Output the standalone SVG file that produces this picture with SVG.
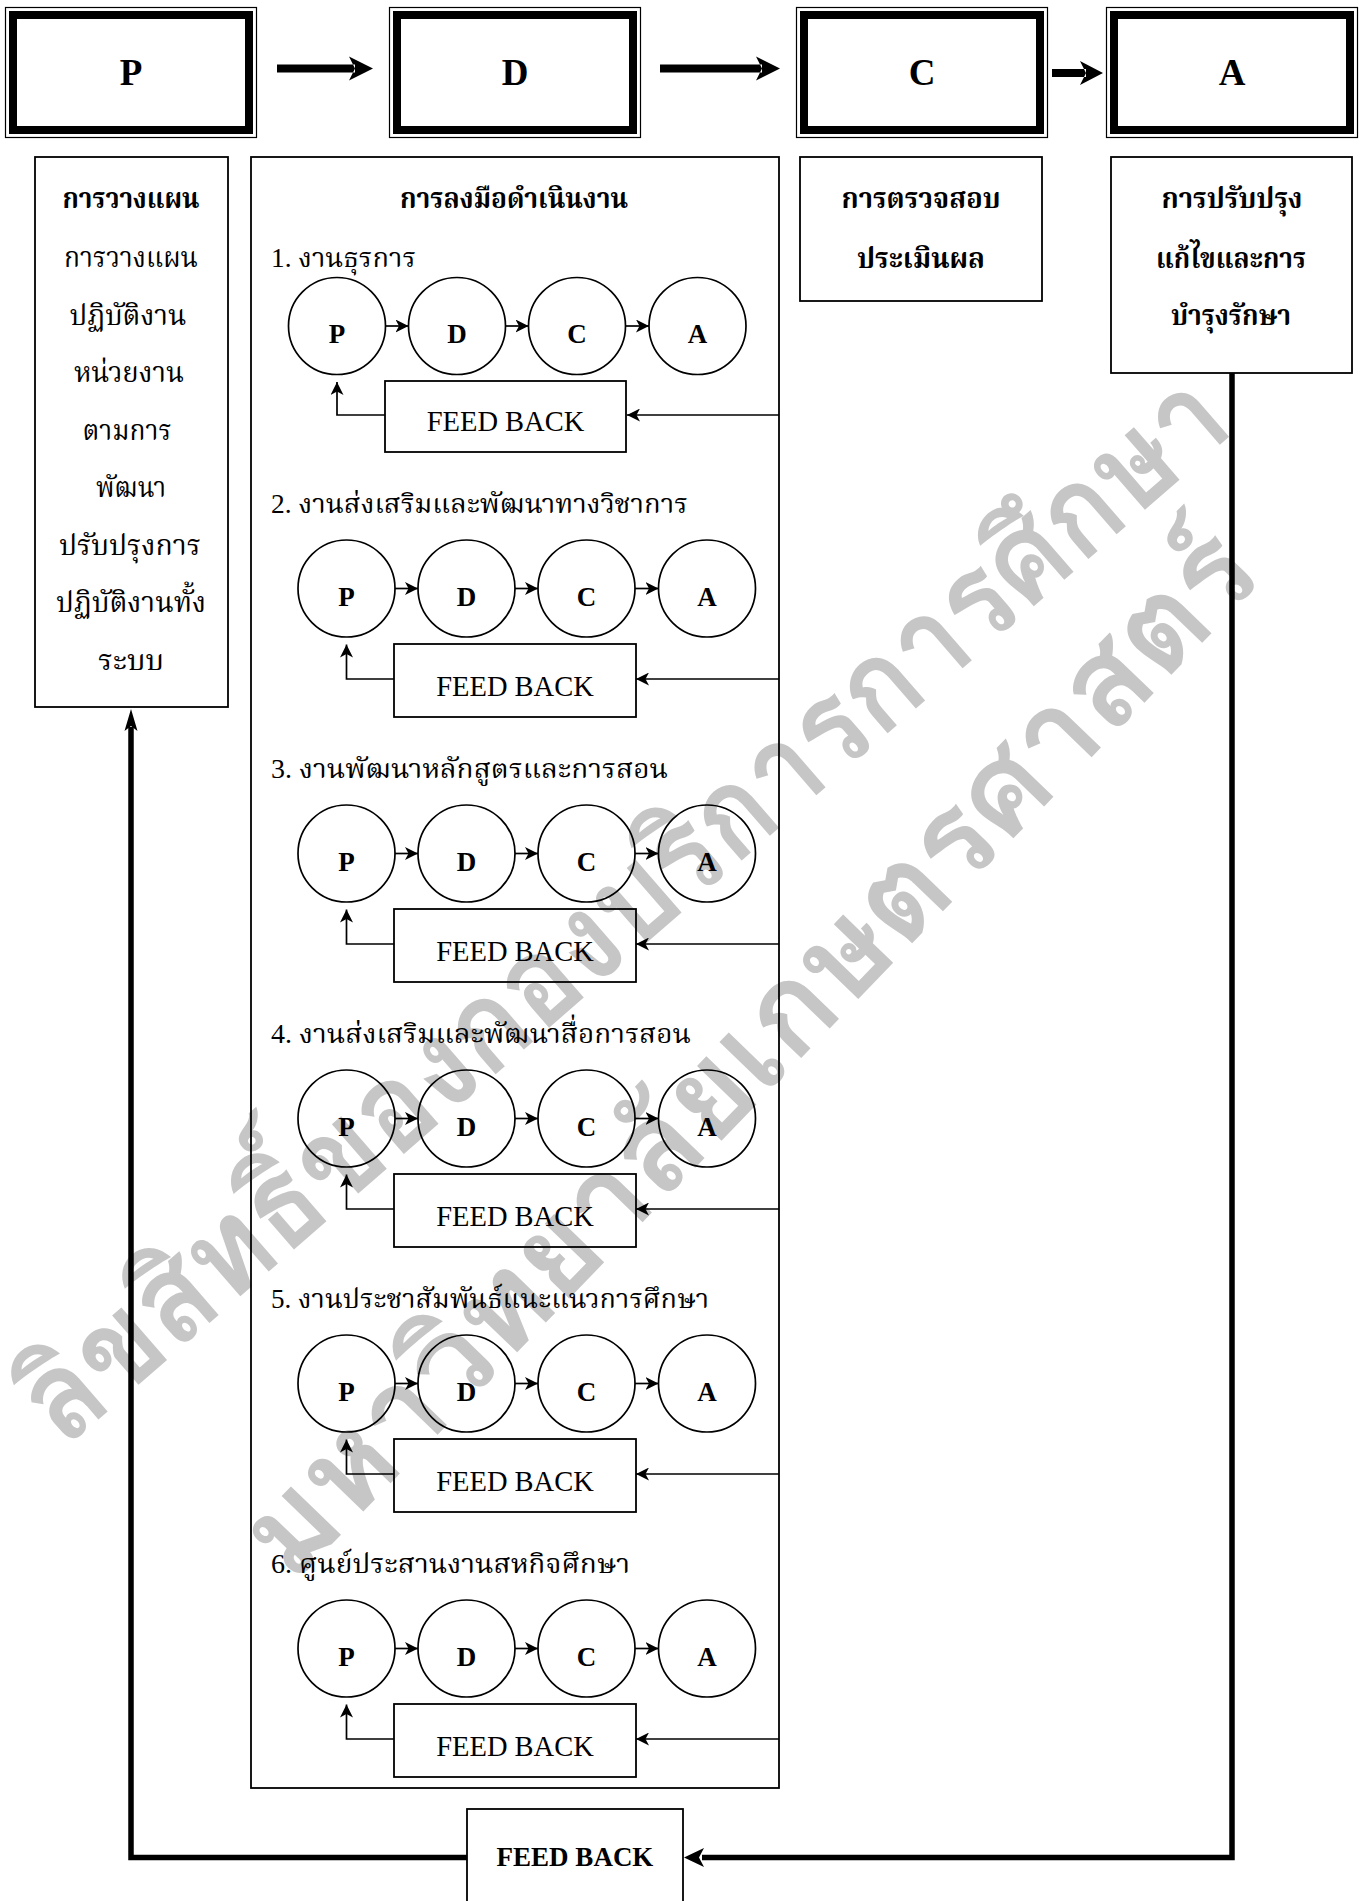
<svg xmlns="http://www.w3.org/2000/svg" width="1365" height="1901" viewBox="0 0 1365 1901">
<defs>
<style>
.th{font-family:"Liberation Serif","Norasi","Angsana New","TH Sarabun New","Noto Serif Thai","Noto Sans Thai","Loma",serif;fill:#000}
.b{font-weight:bold}
.lat{font-family:"Liberation Serif","Times New Roman",serif;fill:#000}
.box{fill:none;stroke:#000;stroke-width:1.8}
.thin{fill:none;stroke:#000;stroke-width:1.2}
.thick{fill:none;stroke:#000;stroke-width:8}
.cir{fill:none;stroke:#000;stroke-width:1.7}
.ln{fill:none;stroke:#000;stroke-width:1.7}
.big{fill:none;stroke:#000;stroke-width:5.5}
.wm{font-family:"Loma","Noto Sans Thai","Garuda","Tahoma","DejaVu Sans",sans-serif;font-weight:bold;fill:#c6c6c6}
</style>
<marker id="ah" viewBox="0 0 13 13" refX="13" refY="6.5" markerWidth="13" markerHeight="13" markerUnits="userSpaceOnUse" orient="auto">
<path d="M0,0 L13,6.5 L0,13 L3.5,6.5 Z" fill="#000"/>
</marker>
<g id="circles">
<circle class="cir" cx="0" cy="0" r="48.5"/>
<circle class="cir" cx="120" cy="0" r="48.5"/>
<circle class="cir" cx="240" cy="0" r="48.5"/>
<circle class="cir" cx="360.5" cy="0" r="48.5"/>
<line class="ln" x1="48.5" y1="0" x2="71.5" y2="0" marker-end="url(#ah)"/>
<line class="ln" x1="168.5" y1="0" x2="191.5" y2="0" marker-end="url(#ah)"/>
<line class="ln" x1="288.5" y1="0" x2="312" y2="0" marker-end="url(#ah)"/>
<text class="lat b" x="0" y="17" font-size="27" text-anchor="middle">P</text>
<text class="lat b" x="120" y="17" font-size="27" text-anchor="middle">D</text>
<text class="lat b" x="240" y="17" font-size="27" text-anchor="middle">C</text>
<text class="lat b" x="360.5" y="17" font-size="27" text-anchor="middle">A</text>
</g>
<g id="cycle">
<use href="#circles"/>
<rect class="box" x="47.5" y="55.5" width="242" height="73"/>
<text class="lat" x="168.5" y="107.5" font-size="28.5" text-anchor="middle">FEED BACK</text>
<polyline class="ln" points="47.5,90.5 0,90.5 0,56" marker-end="url(#ah)"/>
<line class="ln" x1="432.5" y1="90.5" x2="289.5" y2="90.5" marker-end="url(#ah)"/>
</g>
</defs>

<g id="watermark">
<text class="wm" font-size="125" transform="translate(36,1418) rotate(-41)" y="42" textLength="1555" lengthAdjust="spacingAndGlyphs">ลิขสิทธิ์ของกองบริการการศึกษา</text>
<text class="wm" font-size="125" transform="translate(262,1556) rotate(-46)" y="42" textLength="1400" lengthAdjust="spacingAndGlyphs">มหาวิทยาลัยเกษตรศาสตร์</text>
</g>

<g id="node-P">
<rect class="thin" x="5.5" y="7.5" width="251" height="130"/>
<rect class="thick" x="13" y="15" width="236" height="115"/>
<text class="lat b" x="131" y="85" font-size="37" text-anchor="middle">P</text>
</g>
<g id="node-D">
<rect class="thin" x="389.5" y="7.5" width="251" height="130"/>
<rect class="thick" x="397" y="15" width="236" height="115"/>
<text class="lat b" x="515" y="85" font-size="37" text-anchor="middle">D</text>
</g>
<g id="node-C">
<rect class="thin" x="796.5" y="7.5" width="251" height="130"/>
<rect class="thick" x="804" y="15" width="236" height="115"/>
<text class="lat b" x="922" y="85" font-size="37" text-anchor="middle">C</text>
</g>
<g id="node-A">
<rect class="thin" x="1106.5" y="7.5" width="251" height="130"/>
<rect class="thick" x="1114" y="15" width="236" height="115"/>
<text class="lat b" x="1232" y="85" font-size="37" text-anchor="middle">A</text>
</g>

<g id="plan-box">
<rect class="box" x="35" y="157" width="193" height="550"/>
<text class="th b" x="131" y="208" font-size="29" text-anchor="middle" textLength="137" lengthAdjust="spacingAndGlyphs">การวางแผน</text>
<text class="th" x="131" y="267" font-size="29" text-anchor="middle" textLength="134" lengthAdjust="spacingAndGlyphs">การวางแผน</text>
<text class="th" x="128" y="325" font-size="29" text-anchor="middle" textLength="117" lengthAdjust="spacingAndGlyphs">ปฏิบัติงาน</text>
<text class="th" x="129" y="382" font-size="29" text-anchor="middle" textLength="110" lengthAdjust="spacingAndGlyphs">หน่วยงาน</text>
<text class="th" x="127" y="440" font-size="29" text-anchor="middle" textLength="89" lengthAdjust="spacingAndGlyphs">ตามการ</text>
<text class="th" x="131" y="497" font-size="29" text-anchor="middle" textLength="70" lengthAdjust="spacingAndGlyphs">พัฒนา</text>
<text class="th" x="130" y="555" font-size="29" text-anchor="middle" textLength="142" lengthAdjust="spacingAndGlyphs">ปรับปรุงการ</text>
<text class="th" x="131" y="612" font-size="29" text-anchor="middle" textLength="150" lengthAdjust="spacingAndGlyphs">ปฏิบัติงานทั้ง</text>
<text class="th" x="131" y="670" font-size="29" text-anchor="middle" textLength="66" lengthAdjust="spacingAndGlyphs">ระบบ</text>
</g>

<g id="do-box">
<rect class="box" x="251" y="157" width="528" height="1631"/>
<text class="th b" x="514" y="208" font-size="29" text-anchor="middle" textLength="228" lengthAdjust="spacingAndGlyphs">การลงมือดำเนินงาน</text>
<text class="th" x="271" y="267" font-size="27" textLength="145" lengthAdjust="spacingAndGlyphs">1. งานธุรการ</text>
<text class="th" x="271" y="513" font-size="27" textLength="417" lengthAdjust="spacingAndGlyphs">2. งานส่งเสริมและพัฒนาทางวิชาการ</text>
<text class="th" x="271" y="778" font-size="27" textLength="397" lengthAdjust="spacingAndGlyphs">3. งานพัฒนาหลักสูตรและการสอน</text>
<text class="th" x="271" y="1043" font-size="27" textLength="420" lengthAdjust="spacingAndGlyphs">4. งานส่งเสริมและพัฒนาสื่อการสอน</text>
<text class="th" x="271" y="1308" font-size="27" textLength="438" lengthAdjust="spacingAndGlyphs">5. งานประชาสัมพันธ์แนะแนวการศึกษา</text>
<text class="th" x="271" y="1573" font-size="27" textLength="359" lengthAdjust="spacingAndGlyphs">6. ศูนย์ประสานงานสหกิจศึกษา</text>
</g>

<g id="row1">
<use href="#circles" x="337" y="326"/>
<rect class="box" x="385" y="381" width="241" height="71"/>
<text class="lat" x="505.5" y="431" font-size="28.5" text-anchor="middle">FEED BACK</text>
</g>
<g id="row2"><use href="#cycle" x="346.5" y="588.5"/></g>
<g id="row3"><use href="#cycle" x="346.5" y="853.5"/></g>
<g id="row4"><use href="#cycle" x="346.5" y="1118.5"/></g>
<g id="row5"><use href="#cycle" x="346.5" y="1383.5"/></g>
<g id="row6"><use href="#cycle" x="346.5" y="1648.5"/></g>

<g id="check-box">
<rect class="box" x="800" y="157" width="242" height="144"/>
<text class="th b" x="921" y="208" font-size="29" text-anchor="middle" textLength="159" lengthAdjust="spacingAndGlyphs">การตรวจสอบ</text>
<text class="th b" x="921" y="268" font-size="29" text-anchor="middle" textLength="128" lengthAdjust="spacingAndGlyphs">ประเมินผล</text>
</g>
<g id="act-box">
<rect class="box" x="1111" y="157" width="241" height="216"/>
<text class="th b" x="1232" y="208" font-size="29" text-anchor="middle" textLength="141" lengthAdjust="spacingAndGlyphs">การปรับปรุง</text>
<text class="th b" x="1231" y="268" font-size="29" text-anchor="middle" textLength="150" lengthAdjust="spacingAndGlyphs">แก้ไขและการ</text>
<text class="th b" x="1231" y="325" font-size="29" text-anchor="middle" textLength="120" lengthAdjust="spacingAndGlyphs">บำรุงรักษา</text>
</g>
<g id="feedback-main">
<rect class="box" x="467" y="1809" width="216" height="110"/>
<text class="lat b" x="575" y="1866" font-size="27" text-anchor="middle">FEED BACK</text>
</g>

<g id="connectors">
<path d="M277,64.5 H355 V72.5 H277 Z M373,68.5 L349,56.5 L355,68.5 L349,80.5 Z" fill="#000"/>
<path d="M660,64.5 H762 V72.5 H660 Z M780,68.5 L756,56.5 L762,68.5 L756,80.5 Z" fill="#000"/>
<path d="M1052,69 H1086 V77 H1052 Z M1103,73 L1080,61 L1086,73 L1080,85 Z" fill="#000"/>
<polyline class="ln" points="385,415 337,415 337,382" marker-end="url(#ah)"/>
<line class="ln" x1="779" y1="415" x2="627" y2="415" marker-end="url(#ah)"/>
<polyline class="big" points="1232,373 1232,1857.5 702,1857.5"/>
<path d="M684,1857.5 L704,1848 L699,1857.5 L704,1867 Z" fill="#000"/>
<polyline class="big" points="467,1857.5 131,1857.5 131,727"/>
<path d="M131,709 L137.5,731 L131,726 L124.5,731 Z" fill="#000"/>
</g>
</svg>
